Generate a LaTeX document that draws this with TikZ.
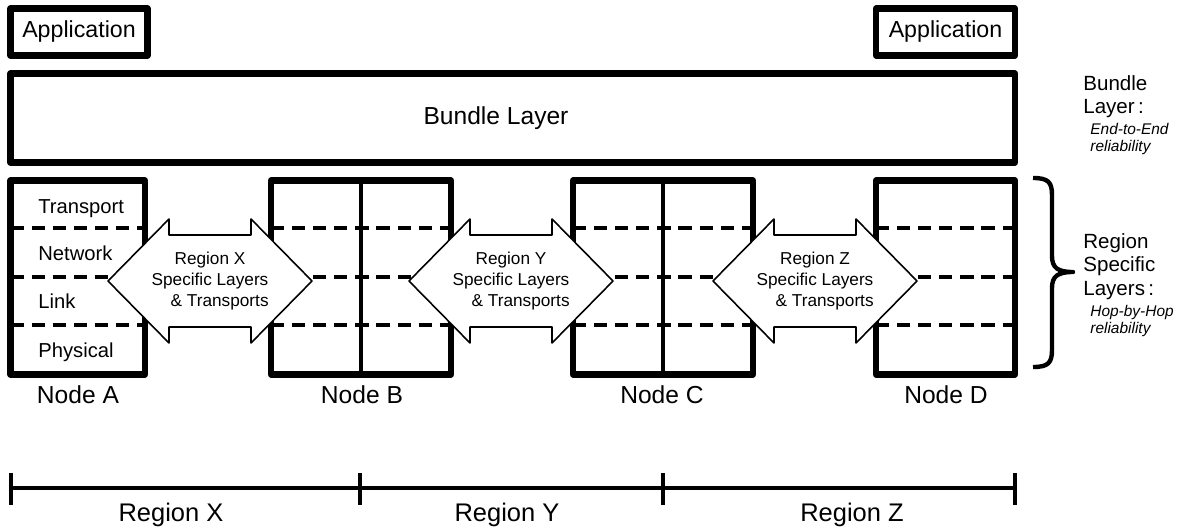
\documentclass[tikz,border=0pt]{standalone}
\usepackage{fontspec}
\setmainfont{Liberation Sans}

\begin{document}
\begin{tikzpicture}[x=0.02cm,y=-0.02cm,line join=round]
\tikzstyle{box}=[draw,line width=3.6pt,outer sep=0pt,inner sep=0pt]
\tikzstyle{lyr}=[line width=2.4pt,dash pattern=on 7.5pt off 4.5pt]
\tikzstyle{mid}=[line width=2pt]
\tikzstyle{arr}=[draw,fill=white,line width=0.9pt]
\tikzstyle{atext}=[align=center,inner sep=0pt,font=\fontsize{9.8pt}{12pt}\selectfont]
\tikzstyle{lname}=[inner sep=0pt,font=\fontsize{11.5pt}{13pt}\selectfont]
\tikzstyle{big}=[inner sep=0pt,font=\fontsize{14pt}{16pt}\selectfont]
\tikzstyle{stext}=[inner sep=0pt,align=left,anchor=north west]
\tikzstyle{snote}=[inner sep=0pt,align=left,anchor=north west,font=\fontsize{8.8pt}{9.4pt}\selectfont\itshape]
\useasboundingbox (0,0) rectangle (1184,531);
% end-to-end part
\node[box,minimum width=2.74cm,minimum height=0.94cm,font=\fontsize{13.2pt}{15pt}\selectfont] (appA) at (79,32) {Application};
\node[box,minimum width=2.78cm,minimum height=0.94cm,font=\fontsize{13.2pt}{15pt}\selectfont] (appD) at (945.5,32) {Application};
\node[box,minimum width=20.09cm,minimum height=1.78cm] (bundle) at (512.75,118) {};
\node[inner sep=0pt,font=\fontsize{14pt}{16pt}\selectfont] (bundletxt) at (496,118) {Bundle Layer};
% the four nodes
\node[box,minimum width=2.69cm,minimum height=3.88cm] (nodeA) at (77.75,277.5) {};
\node[box,minimum width=3.6cm,minimum height=3.88cm] (nodeB) at (361,277.5) {};
\node[box,minimum width=3.6cm,minimum height=3.88cm] (nodeC) at (663,277.5) {};
\node[box,minimum width=2.78cm,minimum height=3.88cm] (nodeD) at (945.5,277.5) {};
\foreach \n in {nodeA,nodeB,nodeC,nodeD}
  \foreach \y in {228,277,325} \draw[lyr] (\n.west |- 0,\y) -- (\n.east |- 0,\y);
\draw[mid] (nodeB.north) -- (nodeB.south);
\draw[mid] (nodeC.north) -- (nodeC.south);
\foreach \t/\y in {Transport/213,Network/260,Link/308,Physical/357}
  \node[lname,anchor=base west] (l\t) at (38,\y) {\t};
\node[big,anchor=base] (labA) at (78,403) {Node A};
\node[big,anchor=base] (labB) at (362,403) {Node B};
\node[big,anchor=base] (labC) at (662,403) {Node C};
\node[big,anchor=base] (labD) at (946,403) {Node D};
% region arrows
\foreach \c/\r in {210/X,511/Y,815/Z}{
  \draw[arr] (\c-102,281) -- (\c-41,219) -- (\c-41,235) -- (\c+41,235) -- (\c+41,219) -- (\c+102,281)
    -- (\c+41,343) -- (\c+41,327) -- (\c-41,327) -- (\c-41,343) -- cycle;
  \node[atext] (reg\r) at (\c,281) {Region \r\\Specific Layers\\\hspace*{11pt}\& Transports};
}
% side notes
\node[stext,font=\fontsize{11.7pt}{13.2pt}\selectfont] (bundleinfo) at (1083,75) {Bundle\\Layer\,:};
\node[snote] (bundlenote) at (1090,123) {End-to-End\\reliability};
\draw[line width=2.5pt] (1033,178) .. controls (1048,178) and (1052,182) .. (1052,195) -- (1052,256)
  .. controls (1052,268) and (1058,272) .. (1073,272) .. controls (1058,272) and (1052,276) .. (1052,288)
  -- (1052,350) .. controls (1052,363) and (1048,367) .. (1033,367);
\node[stext,font=\fontsize{11.7pt}{13.4pt}\selectfont] (regioninfo) at (1083,233) {Region\\Specific\\Layers\,:};
\node[snote] (regionnote) at (1090,305) {Hop-by-Hop\\reliability};
% region scale
\draw[line width=2.2pt] (11,488) -- (1015,488);
\foreach \x in {11,360,663,1015} \draw[line width=2.2pt] (\x,473) -- (\x,505);
\node[big,font=\fontsize{14.5pt}{16pt}\selectfont,anchor=base] (rX) at (171,521) {Region X};
\node[big,font=\fontsize{14.5pt}{16pt}\selectfont,anchor=base] (rY) at (507,521) {Region Y};
\node[big,font=\fontsize{14.5pt}{16pt}\selectfont,anchor=base] (rZ) at (852,521) {Region Z};
\end{tikzpicture}
\end{document}
